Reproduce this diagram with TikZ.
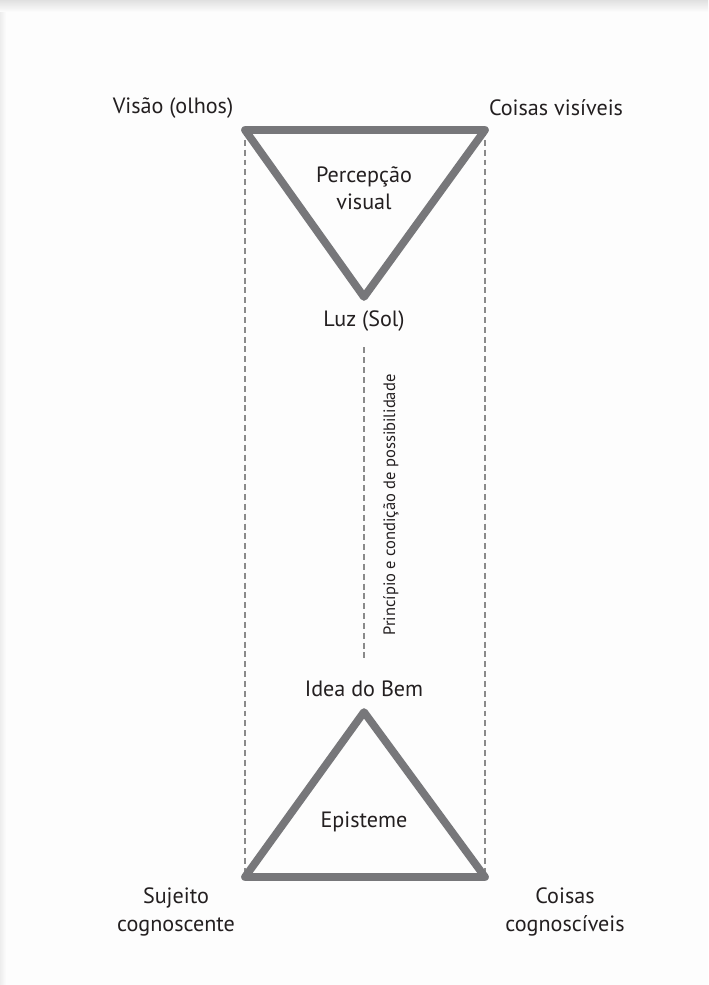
\documentclass[tikz,border=0pt]{standalone}
\usepackage{fontspec}
\setmainfont{PT Sans}
\usetikzlibrary{positioning}
\definecolor{PlatoGray}{HTML}{77777A}
\definecolor{PlatoDash}{HTML}{8A8A8A}
\definecolor{PlatoText}{HTML}{231F20}
\definecolor{PlatoPaper}{HTML}{FDFDFD}
\begin{document}
\begin{tikzpicture}[
  x=0.02cm, y=-0.02cm,
  every node/.style={font=\fontsize{12.6}{15.5}\selectfont,text=PlatoText,
    align=center,inner sep=1pt},
  tri/.style={draw=PlatoGray,line width=4.4pt,line join=round,line cap=round},
  guide/.style={draw=PlatoDash,line width=0.8pt,dash pattern=on 3.4pt off 2.2pt}
]
\useasboundingbox (0,0) rectangle (708,985);
\fill[PlatoPaper] (0,0) rectangle (708,985);
\shade[top color=black!12,bottom color=PlatoPaper] (0,0) rectangle (708,12);
\shade[left color=black!7,right color=PlatoPaper] (0,12) rectangle (6,985);

% corners of the two triangles
\coordinate (olhos) at (245,130);
\coordinate (visiveis) at (485,130);
\coordinate (sol) at (364,297);
\coordinate (bem) at (364,712);
\coordinate (sujeito) at (245,877);
\coordinate (cognosc) at (485,877);

% side guides
\draw[guide] (olhos) -- (sujeito);
\draw[guide] (visiveis) -- (cognosc);

% triangles
\draw[tri] (olhos) -- (visiveis) -- (sol) -- cycle;
\draw[tri] (bem) -- (cognosc) -- (sujeito) -- cycle;

% labels
\node (lolhos) at (173,108) {Visão (olhos)};
\node (lvisiveis) at (556,108) {Coisas visíveis};
\node (percep) at (364,188) {Percepção\\visual};
\node (luz) at (364,321) {Luz (Sol)};
\node (idea) at (364,689) {Idea do Bem};
\node (episteme) at (364,822) {Episteme};
\node (lsujeito) at (176,912) {Sujeito\\cognoscente};
\node (lcognosc) at (565,912) {Coisas\\cognoscíveis};

% middle guide
\draw[guide,shorten <=8pt,shorten >=10pt] (luz) -- (idea);
\node[rotate=90,font=\fontsize{9.4}{11}\selectfont] (principio) at (391,505)
  {Princípio e condição de possibilidade};
\end{tikzpicture}
\end{document}
